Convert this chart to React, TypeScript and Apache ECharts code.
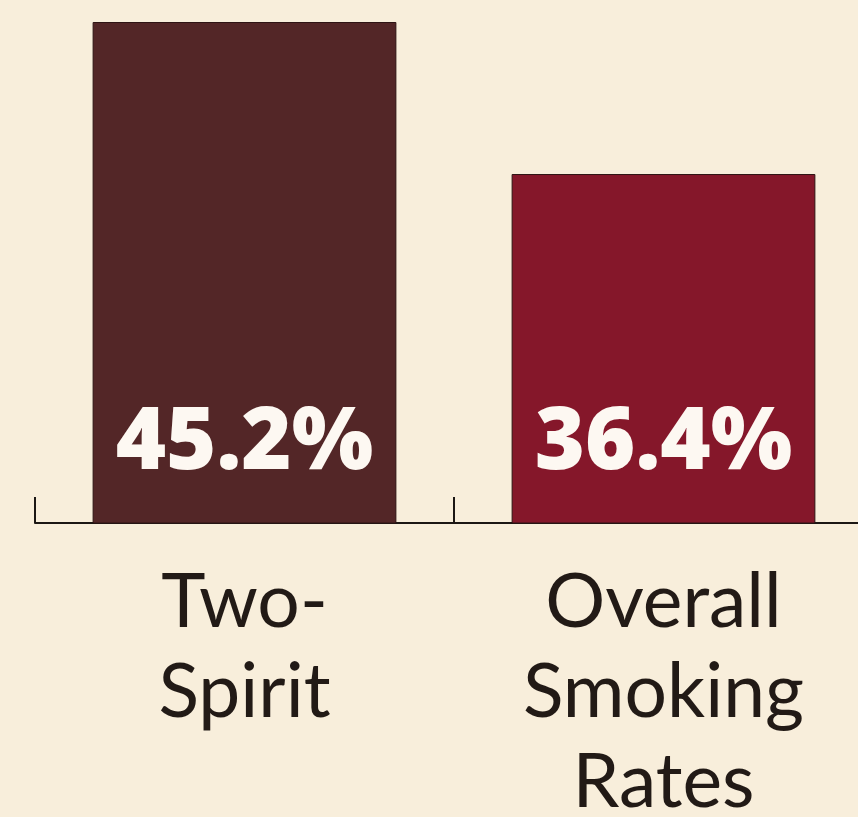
import React, { useEffect, useRef } from "react";
import * as echarts from "echarts";

const categories = ["Two-\nSpirit", "Overall\nSmoking\nRates"];
const values = [45.2, 36.4];
const barColors = ["#532627", "#85172a"];

export default function App() {
  const ref = useRef<HTMLDivElement>(null);
  useEffect(() => {
    if (!ref.current) return;
    const chart = echarts.init(ref.current, null, { renderer: "svg" });
    chart.setOption({
      animation: false,
      backgroundColor: "#f8eedb",
      grid: { left: 35, top: 22, width: 838, height: 501, outerBoundsMode: "none", containLabel: false },
      xAxis: {
        type: "category",
        data: categories,
        axisLine: { show: true, lineStyle: { color: "#1c1714", width: 2 } },
        axisTick: { show: true, inside: true, length: 26, lineStyle: { color: "#1c1714", width: 2 } },
        axisLabel: {
          color: "#221a16",
          fontFamily: "Lato",
          fontSize: 75,
          lineHeight: 90,
          margin: 30,
          interval: 0,
        },
      },
      yAxis: {
        type: "value",
        min: 16.2,
        max: 45.2,
        show: false,
        splitLine: { show: false },
      },
      series: [
        {
          type: "bar",
          barWidth: "72.5%",
          data: values.map((v, i) => ({
            value: v,
            itemStyle: { color: barColors[i], borderColor: "#2e1414", borderWidth: 1 },
          })),
          label: {
            show: true,
            position: "insideBottom",
            distance: 44,
            formatter: (p: any) => p.value.toFixed(1) + "%",
            color: "#fdf8f2",
            fontFamily: "Open Sans",
            fontWeight: 800,
            fontSize: 86,
            lineHeight: 88,
          },
        },
      ],
    });
    return () => chart.dispose();
  }, []);
  return (
    <div style={{ position: "fixed", left: 0, top: 0, width: 858, height: 817, overflow: "hidden" }}>
      <div ref={ref} style={{ width: 900, height: 817 }} />
    </div>
  );
}
